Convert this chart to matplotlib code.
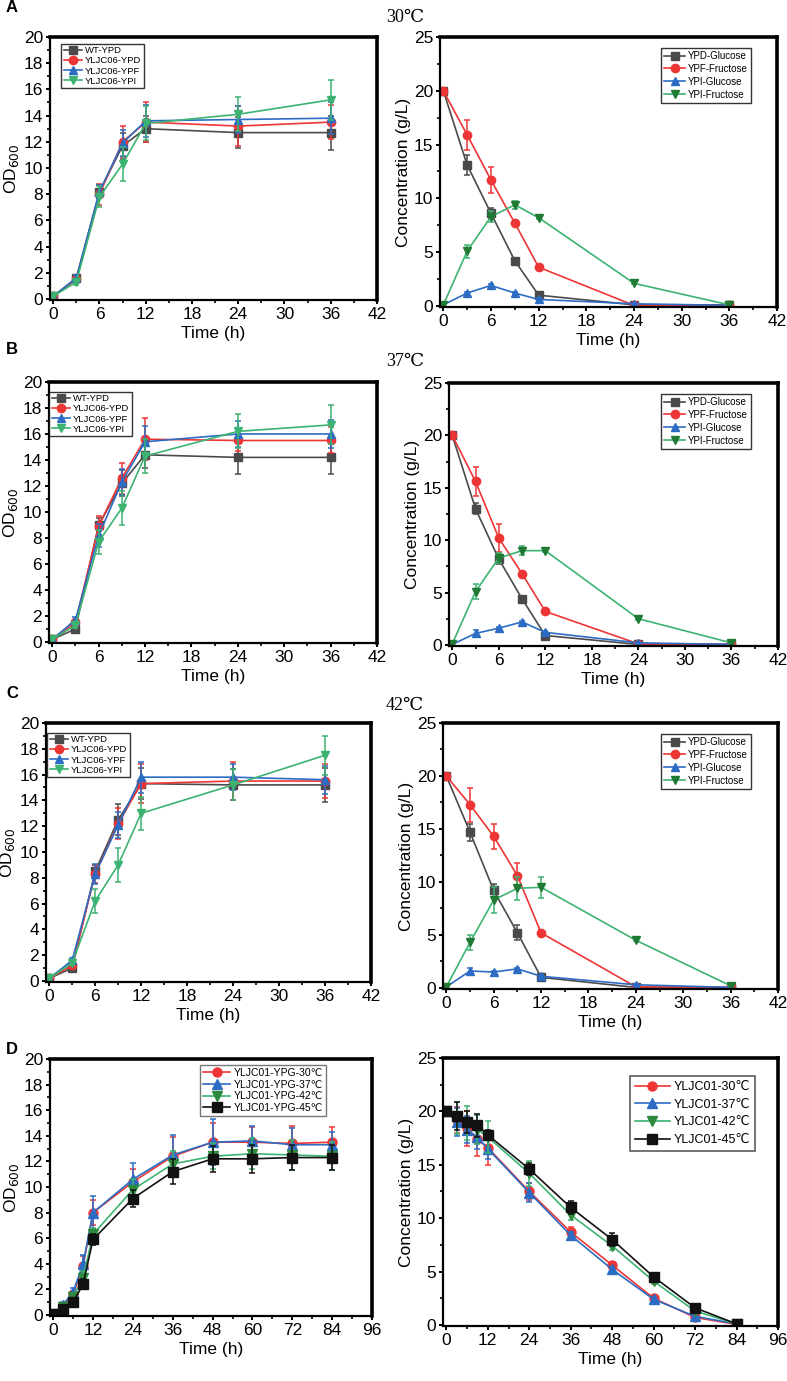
import numpy as np
import matplotlib
matplotlib.use('Agg')
import matplotlib.pyplot as plt
from matplotlib.ticker import MultipleLocator, AutoMinorLocator

plt.rcParams['font.family'] = ['Liberation Sans', 'DejaVu Sans']

# ---- data -------------------------------------------------------------
t_short = [0, 3, 6, 9, 12, 24, 36]
t_long = [0, 3, 6, 9, 12, 24, 36, 48, 60, 72, 84]

od_labels = ['WT-YPD', 'YLJC06-YPD', 'YLJC06-YPF', 'YLJC06-YPI']
sugar_labels = ['YPD-Glucose', 'YPF-Fructose', 'YPI-Glucose', 'YPI-Fructose']
temps = ['30℃', '37℃', '42℃']

# panel A (30 C)
od_30 = [[0.2, 1.6, 8.2, 11.7, 13.0, 12.7, 12.7],
         [0.2, 1.5, 8.0, 12.0, 13.5, 13.2, 13.5],
         [0.2, 1.6, 8.2, 11.9, 13.6, 13.7, 13.8],
         [0.2, 1.3, 7.8, 10.3, 13.4, 14.1, 15.2]]
od_30_err = [[0.1, 0.2, 0.5, 1.0, 1.0, 1.2, 1.3],
             [0.1, 0.2, 0.8, 1.2, 1.5, 1.5, 1.3],
             [0.1, 0.2, 0.5, 1.0, 1.2, 1.0, 1.2],
             [0.1, 0.2, 0.8, 1.3, 1.3, 1.3, 1.5]]
sug_30 = [[20.0, 13.1, 8.6, 4.2, 1.0, 0.1, 0.1],
          [20.0, 15.9, 11.7, 7.7, 3.6, 0.05, 0.05],
          [0.1, 1.2, 1.9, 1.2, 0.6, 0.2, 0.05],
          [0.1, 5.1, 8.3, 9.4, 8.2, 2.1, 0.1]]
sug_30_err = [[0.1, 0.9, 0.5, 0.2, 0.1, 0.05, 0.05],
              [0.1, 1.4, 1.2, 0.2, 0.2, 0.05, 0.05],
              [0.05, 0.1, 0.1, 0.1, 0.1, 0.05, 0.05],
              [0.05, 0.6, 0.5, 0.4, 0.1, 0.1, 0.05]]

# panel B (37 C)
od_37 = [[0.2, 1.0, 9.0, 12.2, 14.4, 14.2, 14.2],
         [0.2, 1.5, 8.9, 12.6, 15.6, 15.5, 15.5],
         [0.2, 1.7, 8.2, 12.3, 15.4, 16.0, 16.0],
         [0.2, 1.3, 7.7, 10.3, 14.3, 16.2, 16.7]]
od_37_err = [[0.1, 0.2, 0.5, 1.0, 1.0, 1.3, 1.3],
             [0.1, 0.2, 0.8, 1.2, 1.6, 0.8, 1.0],
             [0.1, 0.2, 0.9, 1.0, 1.2, 1.0, 1.1],
             [0.1, 0.2, 0.9, 1.3, 1.3, 1.3, 1.5]]
sug_37 = [[20.0, 13.0, 8.2, 4.4, 0.9, 0.05, 0.05],
          [20.0, 15.6, 10.2, 6.8, 3.2, 0.1, 0.05],
          [0.05, 1.1, 1.6, 2.2, 1.2, 0.2, 0.05],
          [0.1, 5.1, 8.3, 9.0, 9.0, 2.5, 0.2]]
sug_37_err = [[0.1, 0.5, 0.5, 0.2, 0.1, 0.05, 0.05],
              [0.1, 1.4, 1.3, 0.2, 0.2, 0.05, 0.05],
              [0.05, 0.3, 0.1, 0.1, 0.1, 0.05, 0.05],
              [0.05, 0.7, 0.5, 0.4, 0.1, 0.1, 0.05]]

# panel C (42 C)
od_42 = [[0.2, 1.0, 8.5, 12.5, 15.3, 15.2, 15.2],
         [0.2, 1.2, 8.3, 12.2, 15.3, 15.5, 15.5],
         [0.2, 1.6, 8.3, 12.1, 15.8, 15.8, 15.6],
         [0.2, 1.4, 6.2, 9.0, 13.0, 15.2, 17.5]]
od_42_err = [[0.1, 0.2, 0.5, 1.2, 1.2, 1.2, 1.3],
             [0.1, 0.2, 0.7, 1.2, 1.5, 1.5, 1.3],
             [0.1, 0.2, 0.8, 1.0, 1.2, 1.0, 1.1],
             [0.1, 0.2, 0.9, 1.3, 1.3, 1.2, 1.5]]
sug_42 = [[20.0, 14.7, 9.2, 5.2, 1.0, 0.05, 0.05],
          [20.0, 17.3, 14.3, 10.6, 5.2, 0.1, 0.05],
          [0.1, 1.6, 1.5, 1.8, 1.1, 0.3, 0.05],
          [0.1, 4.3, 8.3, 9.4, 9.5, 4.5, 0.2]]
sug_42_err = [[0.1, 0.8, 0.6, 0.7, 0.1, 0.05, 0.05],
              [0.1, 1.6, 1.2, 1.2, 0.3, 0.05, 0.05],
              [0.05, 0.3, 0.1, 0.1, 0.1, 0.05, 0.05],
              [0.05, 0.7, 1.2, 1.1, 1.0, 0.1, 0.05]]

# panel D (YLJC01, YPG)
d_od_labels = ['YLJC01-YPG-30℃', 'YLJC01-YPG-37℃', 'YLJC01-YPG-42℃', 'YLJC01-YPG-45℃']
d_sug_labels = ['YLJC01-30℃', 'YLJC01-37℃', 'YLJC01-42℃', 'YLJC01-45℃']
d_od = [[0.1, 0.7, 1.6, 3.8, 8.0, 10.4, 12.4, 13.5, 13.5, 13.4, 13.5],
        [0.1, 0.8, 1.8, 4.0, 8.0, 10.6, 12.5, 13.5, 13.6, 13.3, 13.3],
        [0.1, 0.6, 1.4, 2.9, 6.3, 9.8, 11.8, 12.4, 12.6, 12.5, 12.4],
        [0.1, 0.5, 1.0, 2.4, 5.9, 9.1, 11.2, 12.2, 12.2, 12.3, 12.3]]
d_od_err = [[0.1, 0.2, 0.3, 0.8, 1.0, 1.0, 1.5, 1.5, 1.2, 1.4, 1.2],
            [0.1, 0.2, 0.3, 0.7, 1.3, 1.3, 1.6, 1.8, 1.2, 1.3, 1.0],
            [0.1, 0.1, 0.3, 0.5, 0.5, 0.8, 1.0, 1.0, 1.2, 1.2, 1.1],
            [0.1, 0.1, 0.2, 0.4, 0.4, 0.7, 1.0, 1.0, 1.1, 1.0, 1.0]]
d_sug = [[20.0, 19.2, 18.4, 17.4, 16.6, 12.5, 8.7, 5.6, 2.5, 0.7, 0.05],
         [20.0, 19.0, 18.3, 17.6, 16.5, 12.4, 8.4, 5.2, 2.4, 0.8, 0.1],
         [20.0, 19.4, 18.9, 18.3, 17.6, 14.2, 10.3, 7.4, 4.1, 1.3, 0.1],
         [20.0, 19.6, 19.0, 18.7, 17.8, 14.6, 11.0, 8.0, 4.5, 1.6, 0.1]]
d_sug_err = [[0.1, 1.2, 1.6, 1.6, 1.6, 0.8, 0.5, 0.3, 0.2, 0.1, 0.05],
             [0.1, 1.3, 1.3, 1.1, 1.0, 0.9, 0.3, 0.2, 0.2, 0.1, 0.05],
             [0.1, 1.5, 1.6, 1.4, 1.5, 1.2, 0.5, 0.4, 0.3, 0.1, 0.05],
             [0.1, 1.3, 1.0, 1.1, 0.5, 0.6, 0.6, 0.6, 0.3, 0.1, 0.05]]

# ---- styles -----------------------------------------------------------
GRAY, RED, BLUE, GREEN, DGREEN = '#4a4a4a', '#ee3535', '#2c6cc4', '#3cb371', '#1f7a34'
od_style = [(GRAY, GRAY, 's'), (RED, RED, 'o'), (BLUE, BLUE, '^'), (GREEN, GREEN, 'v')]
sug_style = [(GRAY, GRAY, 's'), (RED, RED, 'o'), (BLUE, BLUE, '^'), (GREEN, DGREEN, 'v')]
d_style = [(RED, RED, 'o'), (BLUE, BLUE, '^'), (GREEN, '#2e8b3e', 'v'), ('#111111', '#111111', 's')]

W, H = 787, 1381
fig = plt.figure(figsize=(W / 100, H / 100), dpi=100)


def make_ax(l, t, r, b):
    return fig.add_axes([l / W, 1 - b / H, (r - l) / W, (b - t) / H])


def style_ax(ax, xmax, xstep, ymax, ystep, ylabel):
    ax.set_xlim(-xmax * 0.01, xmax)
    ax.set_ylim(-ymax * 0.004, ymax)
    ax.xaxis.set_major_locator(MultipleLocator(xstep))
    ax.yaxis.set_major_locator(MultipleLocator(ystep))
    ax.xaxis.set_minor_locator(AutoMinorLocator(2))
    ax.yaxis.set_minor_locator(AutoMinorLocator(2))
    ax.tick_params(which='major', direction='out', length=3, width=1.4, labelsize=12.5, pad=2)
    ax.tick_params(which='minor', direction='out', length=2, width=1.2)
    for s in ['top', 'right']:
        ax.spines[s].set_linewidth(2.6)
    for s in ['left', 'bottom']:
        ax.spines[s].set_linewidth(1.6)
    ax.set_xlabel('Time (h)', fontsize=12.5, labelpad=3)
    ax.set_ylabel(ylabel, fontsize=12.5, labelpad=2)


def draw(ax, t, series, errs, labels, styles, ms=6):
    for y, e, lab, (lc, mc, mk) in zip(series, errs, labels, styles):
        ax.errorbar(t, y, yerr=e, fmt='none', ecolor=lc, elinewidth=1.1,
                    capsize=2.5, capthick=1.1)
        ax.plot(t, y, color=lc, mfc=mc, mec=mc, marker=mk, ms=ms, lw=1.2, label=lab)


def add_legend(ax, anchor, fs, hl, ls, pad=0.3, ec='black', lw=1.0):
    leg = ax.legend(loc='upper right', bbox_to_anchor=anchor, fontsize=fs, frameon=True,
                    fancybox=False, edgecolor=ec, handlelength=hl, handletextpad=0.3,
                    borderpad=pad, labelspacing=ls, borderaxespad=0)
    leg.get_frame().set_linewidth(lw)
    return leg


od_data = [(od_30, od_30_err), (od_37, od_37_err), (od_42, od_42_err)]
sug_data = [(sug_30, sug_30_err), (sug_37, sug_37_err), (sug_42, sug_42_err)]
left_boxes = [(50, 37, 377, 300), (49, 382, 377, 643), (46, 723, 371, 982)]
right_boxes = [(440, 37, 777, 307), (449, 383, 778, 646), (443, 723, 778, 989)]
left_leg = [(144, 44), (132, 392), (130, 733)]
right_leg = [(751, 48), (751, 394), (751, 734)]
letters_y = [8, 350, 693]
temp_y = [18, 362, 705]

for i in range(3):
    l, t, r, b = left_boxes[i]
    ax = make_ax(l, t, r, b)
    draw(ax, t_short, od_data[i][0], od_data[i][1], od_labels, od_style)
    style_ax(ax, 42, 6, 20, 2, 'OD$_{600}$')
    lx, ly = left_leg[i]
    add_legend(ax, ((lx - l) / (r - l), 1 - (ly - t) / (b - t)), 6.8, 2.0, 0.12, pad=0.25)

    l, t, r, b = right_boxes[i]
    ax2 = make_ax(l, t, r, b)
    draw(ax2, t_short, sug_data[i][0], sug_data[i][1], sugar_labels, sug_style)
    style_ax(ax2, 42, 6, 25, 5, 'Concentration (g/L)')
    lx, ly = right_leg[i]
    add_legend(ax2, ((lx - l) / (r - l), 1 - (ly - t) / (b - t)), 7, 2.2, 0.3)

    fig.text(6 / W, 1 - letters_y[i] / H, 'ABC'[i], fontsize=12, fontweight='bold', va='center')
    fig.text(405 / W, 1 - temp_y[i] / H, temps[i], fontsize=13, ha='center', va='center',
             family=['Liberation Serif', 'DejaVu Serif'])

# panel D
l, t, r, b = 50, 1059, 372, 1316
ax = make_ax(l, t, r, b)
draw(ax, t_long, d_od, d_od_err, d_od_labels, d_style, ms=6.5)
style_ax(ax, 96, 12, 20, 2, 'OD$_{600}$')
add_legend(ax, ((326 - l) / (r - l), 1 - (1065 - t) / (b - t)), 7.5, 2.6, 0.15, ec='#555555')

l, t, r, b = 443, 1058, 778, 1326
ax2 = make_ax(l, t, r, b)
draw(ax2, t_long, d_sug, d_sug_err, d_sug_labels, d_style, ms=6.5)
style_ax(ax2, 96, 12, 25, 5, 'Concentration (g/L)')
add_legend(ax2, ((755 - l) / (r - l), 1 - (1076 - t) / (b - t)), 9, 2.8, 0.45, pad=0.4,
           ec='#333333', lw=1.2)

fig.text(6 / W, 1 - 1050 / H, 'D', fontsize=12, fontweight='bold', va='center')

fig.savefig('out.png', dpi=100)
